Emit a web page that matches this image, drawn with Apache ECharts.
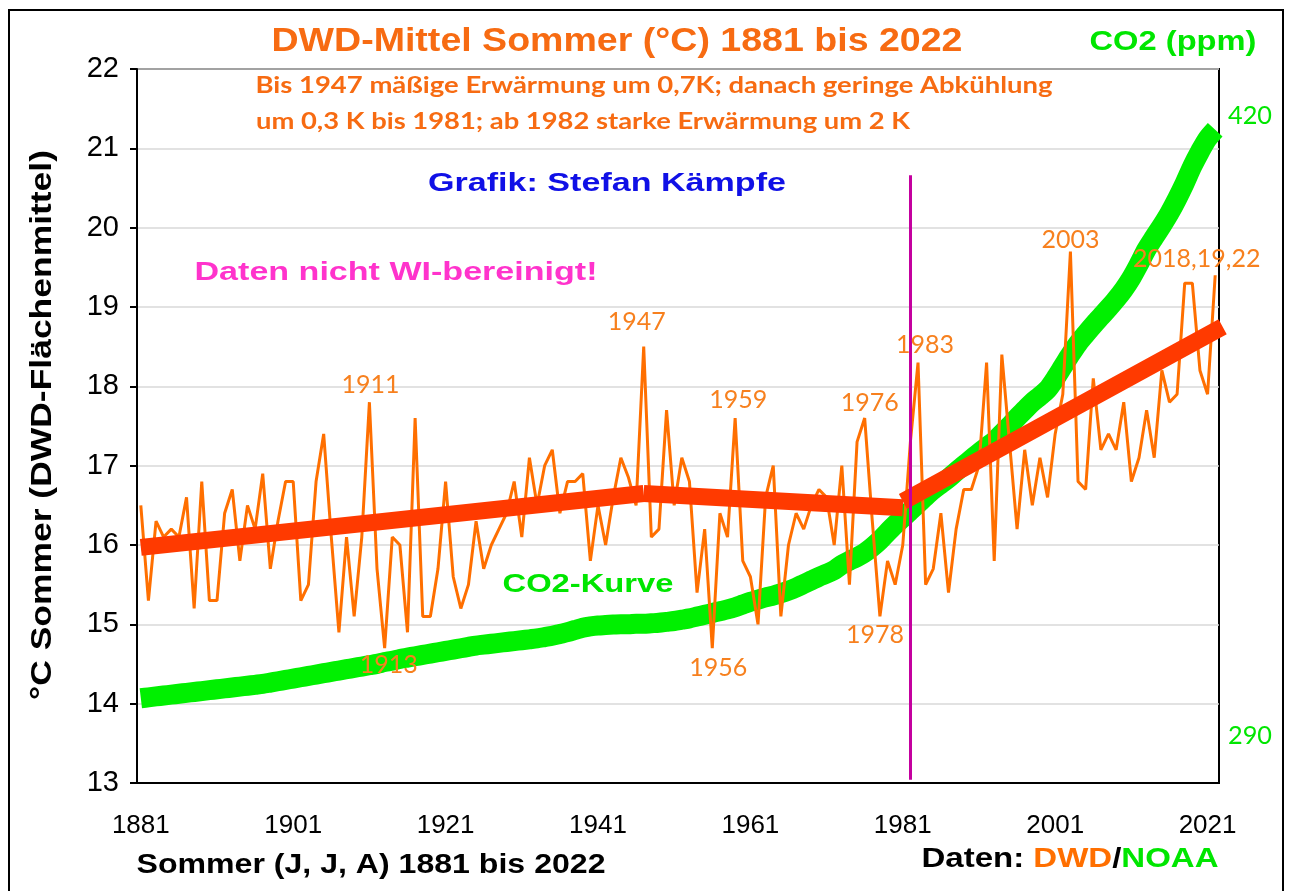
<!DOCTYPE html>
<html>
<head>
    <meta charset="utf-8"/>
    <style>
        html, body {
            height: 100%;
            margin: 0;
            padding: 0;
            background: #fff;
        }

        .container {
            width: 1291px;
            height: 891px;
        }
    </style>
</head>
<body>
<div id="main" class="container"></div>
<script src="https://cdn.jsdelivr.net/npm/echarts@6/dist/echarts.min.js"></script>
<script type="text/javascript">
// Jahre 1881..2022
var years = [];
for (var y = 1881; y <= 2022; y++) years.push(String(y));

// DWD Sommermittel (°C)
var temps = [
    16.5, 15.3, 16.3, 16.1, 16.2, 16.1, 16.6, 15.2, 16.8, 15.3,   // 1881-1890
    15.3, 16.4, 16.7, 15.8, 16.5, 16.2, 16.9, 15.7, 16.3, 16.8,   // 1891-1900
    16.8, 15.3, 15.5, 16.8, 17.4, 16.1, 14.9, 16.1, 15.1, 16.1,   // 1901-1910
    17.8, 15.7, 14.7, 16.1, 16.0, 14.9, 17.6, 15.1, 15.1, 15.7,   // 1911-1920
    16.8, 15.6, 15.2, 15.5, 16.3, 15.7, 16.0, 16.2, 16.4, 16.8,   // 1921-1930
    16.1, 17.1, 16.5, 17.0, 17.2, 16.4, 16.8, 16.8, 16.9, 15.8,   // 1931-1940
    16.5, 16.0, 16.6, 17.1, 16.85, 16.5, 18.5, 16.1, 16.2, 17.7,  // 1941-1950
    16.5, 17.1, 16.8, 15.4, 16.2, 14.7, 16.4, 16.1, 17.6, 15.8,   // 1951-1960
    15.6, 15.0, 16.6, 17.0, 15.1, 16.0, 16.4, 16.2, 16.5, 16.7,   // 1961-1970
    16.6, 16.0, 17.0, 15.5, 17.3, 17.6, 16.3, 15.1, 15.8, 15.5,   // 1971-1980
    16.0, 17.3, 18.3, 15.5, 15.7, 16.4, 15.4, 16.2, 16.7, 16.7,   // 1981-1990
    17.0, 18.3, 15.8, 18.4, 17.3, 16.2, 17.2, 16.5, 17.1, 16.6,   // 1991-2000
    17.4, 17.9, 19.7, 16.8, 16.7, 18.1, 17.2, 17.4, 17.2, 17.8,   // 2001-2010
    16.8, 17.1, 17.7, 17.1, 18.2, 17.8, 17.9, 19.3, 19.3, 18.2,   // 2011-2020
    17.9, 19.4                                                    // 2021-2022
];

var co2 = [
    291.0, 291.2, 291.4, 291.6, 291.8, 292.0, 292.2, 292.4, 292.6, 292.8,
    293.0, 293.2, 293.4, 293.6, 293.8, 294.0, 294.2, 294.5, 294.8, 295.1,
    295.4, 295.7, 296.0, 296.3, 296.6, 296.9, 297.2, 297.5, 297.8, 298.1,
    298.4, 298.7, 299.1, 299.4, 299.8, 300.1, 300.4, 300.7, 301.0, 301.3,
    301.6, 301.9, 302.2, 302.5, 302.8, 303.0, 303.2, 303.4, 303.6, 303.8,
    304.0, 304.2, 304.4, 304.7, 305.0, 305.4, 305.8, 306.3, 306.8, 307.1,
    307.3, 307.4, 307.5, 307.6, 307.6, 307.7, 307.7, 307.8, 307.9, 308.1,
    308.3, 308.6, 308.9, 309.3, 309.7, 310.1, 310.5, 310.9, 311.4, 312.0,
    312.6, 313.1, 313.6, 314.0, 314.5, 315.1, 315.8, 316.6, 317.4, 318.2,
    318.9, 319.7, 320.9, 321.8, 322.6, 323.6, 324.9, 326.4, 328.2, 329.9,
    331.4, 333.0, 334.6, 336.2, 337.7, 339.0, 340.3, 341.8, 343.2, 344.6,
    346.0, 347.3, 348.6, 350.3, 352.0, 353.9, 355.6, 357.3, 358.7, 360.2,
    362.6, 365.3, 368.0, 370.5, 372.6, 374.6, 376.5, 378.4, 380.4, 382.6,
    385.2, 388.3, 391.6, 394.3, 396.9, 399.7, 402.9, 406.4, 410.2, 413.5,
    416.4, 418.4
];

// Trendabschnitte
var trend1Years = ['1881', '1947'];
var trend1Vals = [15.97, 16.65];
var trend2Years = ['1947', '1981'];
var trend2Vals = [16.65, 16.47];
var trend3Years = ['1982', '2022'];
var trend3Vals = [16.6, 18.7];

// markierte Jahre
var markYears = ['1911', '1913', '1947', '1956', '1959', '1976', '1978', '1983', '2003', '2018'];
var markTexts = ['1911', '1913', '1947', '1956', '1959', '1976', '1978', '1983', '2003', '2018,19,22'];

var yTicks = [13, 14, 15, 16, 17, 18, 19, 20, 21, 22];

function createChart() {
    var myChart = echarts.init(document.getElementById('main'));

    var orange = '#ff6f00';
    var green = '#00f000';
    var labelOrange = '#f7801e';
    var arial = '"Liberation Sans", Arial, sans-serif';
    var calibri = 'Lato, "Open Sans", sans-serif';

    var ctx = document.createElement('canvas').getContext('2d');

    // Text auf Zielbreite strecken (die Vorlage ist breit gezogen)
    function fitText(text, cx, cy, width, size, weight, family, color, rot) {
        ctx.font = weight + ' ' + size + 'px ' + family;
        var w = ctx.measureText(text).width;
        return {
            type: 'text',
            x: cx,
            y: cy,
            rotation: rot || 0,
            scaleX: width / w,
            z: 50,
            style: {
                text: text,
                fontSize: size,
                fontWeight: weight,
                fontFamily: family,
                fill: color,
                align: 'center',
                verticalAlign: 'middle',
                textAlign: 'center',
                textVerticalAlign: 'middle'
            }
        };
    }

    var labelOffsets = [[1, -17], [4, 17], [-7, -25], [6, 20], [3, -18],
        [5, -15], [-5, 19], [7, -18], [0, -12], [12, -24]];

    var markData = [];
    for (var k = 0; k < markYears.length; k++) {
        var idx = years.indexOf(markYears[k]);
        markData.push({
            coord: [markYears[k], temps[idx]],
            label: {formatter: markTexts[k], offset: labelOffsets[k]}
        });
    }

    // Daten: DWD/NOAA (rich text)
    ctx.font = 'bold 27px ' + arial;
    var datenW = ctx.measureText('Daten: DWD/NOAA').width;

    var option = {
        animation: false,
        backgroundColor: '#fff',
        grid: {
            left: 137,
            right: 72,
            top: 69,
            bottom: 108,
            show: true,
            borderColor: '#000',
            borderWidth: 2
        },
        xAxis: {
            type: 'category',
            data: years,
            boundaryGap: true,
            axisLine: {lineStyle: {color: '#000', width: 2}},
            axisTick: {interval: 19, length: 8, lineStyle: {color: '#000', width: 2}},
            axisLabel: {
                interval: 19,
                color: '#000',
                fontSize: 26,
                fontFamily: arial,
                margin: 30
            },
            splitLine: {show: false}
        },
        yAxis: [
            {
                type: 'value',
                min: 13,
                max: 22,
                interval: 1,
                axisLine: {show: true, lineStyle: {color: '#000', width: 2}},
                axisTick: {show: true, length: 7, lineStyle: {color: '#000', width: 2}},
                axisLabel: {
                    color: '#000',
                    fontSize: 29,
                    fontFamily: arial,
                    margin: 18,
                    formatter: function (v) {
                        return yTicks.indexOf(v) >= 0 ? String(v) : '';
                    }
                },
                splitLine: {show: true, lineStyle: {color: '#d9d9d9', width: 1.5}}
            },
            {
                type: 'value',
                min: 272,
                max: 432,
                show: false,
                splitLine: {show: false}
            }
        ],
        series: [
            {
                name: 'CO2',
                type: 'line',
                yAxisIndex: 1,
                data: co2,
                showSymbol: false,
                smooth: 0.3,
                z: 2,
                lineStyle: {color: green, width: 20, cap: 'butt', join: 'round'}
            },
            {
                name: 'DWD',
                type: 'line',
                data: temps,
                showSymbol: false,
                z: 3,
                lineStyle: {color: orange, width: 3},
                markPoint: {
                    symbol: 'circle',
                    symbolSize: 0,
                    silent: true,
                    label: {
                        show: true,
                        position: 'inside',
                        color: labelOrange,
                        fontSize: 25,
                        fontFamily: calibri
                    },
                    data: markData
                }
            },
            {
                type: 'line',
                data: trend1Years.map(function (y, i) { return [y, trend1Vals[i]]; }),
                showSymbol: false,
                z: 4,
                lineStyle: {color: '#ff3a00', width: 17, cap: 'butt'}
            },
            {
                type: 'line',
                data: trend2Years.map(function (y, i) { return [y, trend2Vals[i]]; }),
                showSymbol: false,
                z: 4,
                lineStyle: {color: '#ff3a00', width: 17, cap: 'butt'}
            },
            {
                type: 'line',
                data: trend3Years.map(function (y, i) { return [y, trend3Vals[i]]; }),
                showSymbol: false,
                z: 4,
                lineStyle: {color: '#ff3a00', width: 17, cap: 'square'},
                markLine: {
                    silent: true,
                    symbol: 'none',
                    label: {show: false},
                    lineStyle: {color: '#c4009f', width: 3, type: 'solid'},
                    data: [[{coord: ['1982', 20.66]}, {coord: ['1982', 13.04]}]]
                }
            }
        ],
        graphic: [
            {
                type: 'rect',
                shape: {x: 9, y: 10, width: 1274, height: 900},
                style: {fill: 'none', stroke: '#000', lineWidth: 2},
                z: 40
            },
            fitText('DWD-Mittel Sommer (°C) 1881 bis 2022', 617, 42, 691, 33, 'bold', arial, '#f76b12'),
            fitText('CO2 (ppm)', 1173, 43, 167, 27, 'bold', arial, '#00e600'),
            fitText('Bis 1947 mäßige Erwärmung um 0,7K; danach geringe Abkühlung', 654, 86, 797, 23, 'bold', calibri, '#f76b12'),
            fitText('um 0,3 K bis 1981; ab 1982 starke Erwärmung um 2 K', 583, 122, 654, 23, 'bold', calibri, '#f76b12'),
            fitText('Grafik: Stefan Kämpfe', 607, 184, 358, 25, 'bold', arial, '#1010e6'),
            fitText('Daten nicht WI-bereinigt!', 396, 273, 403, 25, 'bold', arial, '#ff33cc'),
            fitText('CO2-Kurve', 588, 585, 171, 25, 'bold', arial, '#00e600'),
            fitText('420', 1250, 116, 44, 25, 'normal', calibri, '#00e600'),
            fitText('290', 1250, 736, 44, 25, 'normal', calibri, '#00e600'),
            fitText('°C Sommer (DWD-Flächenmittel)', 43, 425, 550, 30, 'bold', arial, '#000', Math.PI / 2),
            fitText('Sommer (J, J, A) 1881 bis 2022', 371, 866, 469, 27, 'bold', arial, '#000'),
            {
                type: 'text',
                x: 1070,
                y: 860,
                scaleX: 297 / datenW,
                z: 50,
                style: {
                    text: '{a|Daten: }{b|DWD}{a|/}{c|NOAA}',
                    align: 'center',
                    verticalAlign: 'middle',
                    textAlign: 'center',
                    textVerticalAlign: 'middle',
                    rich: {
                        a: {fontSize: 27, fontWeight: 'bold', fontFamily: arial, fill: '#000', color: '#000'},
                        b: {fontSize: 27, fontWeight: 'bold', fontFamily: arial, fill: '#ff6f00', color: '#ff6f00'},
                        c: {fontSize: 27, fontWeight: 'bold', fontFamily: arial, fill: '#00e600', color: '#00e600'}
                    }
                }
            }
        ]
    };

    myChart.setOption(option);
}

createChart();
</script>
</body>
</html>
